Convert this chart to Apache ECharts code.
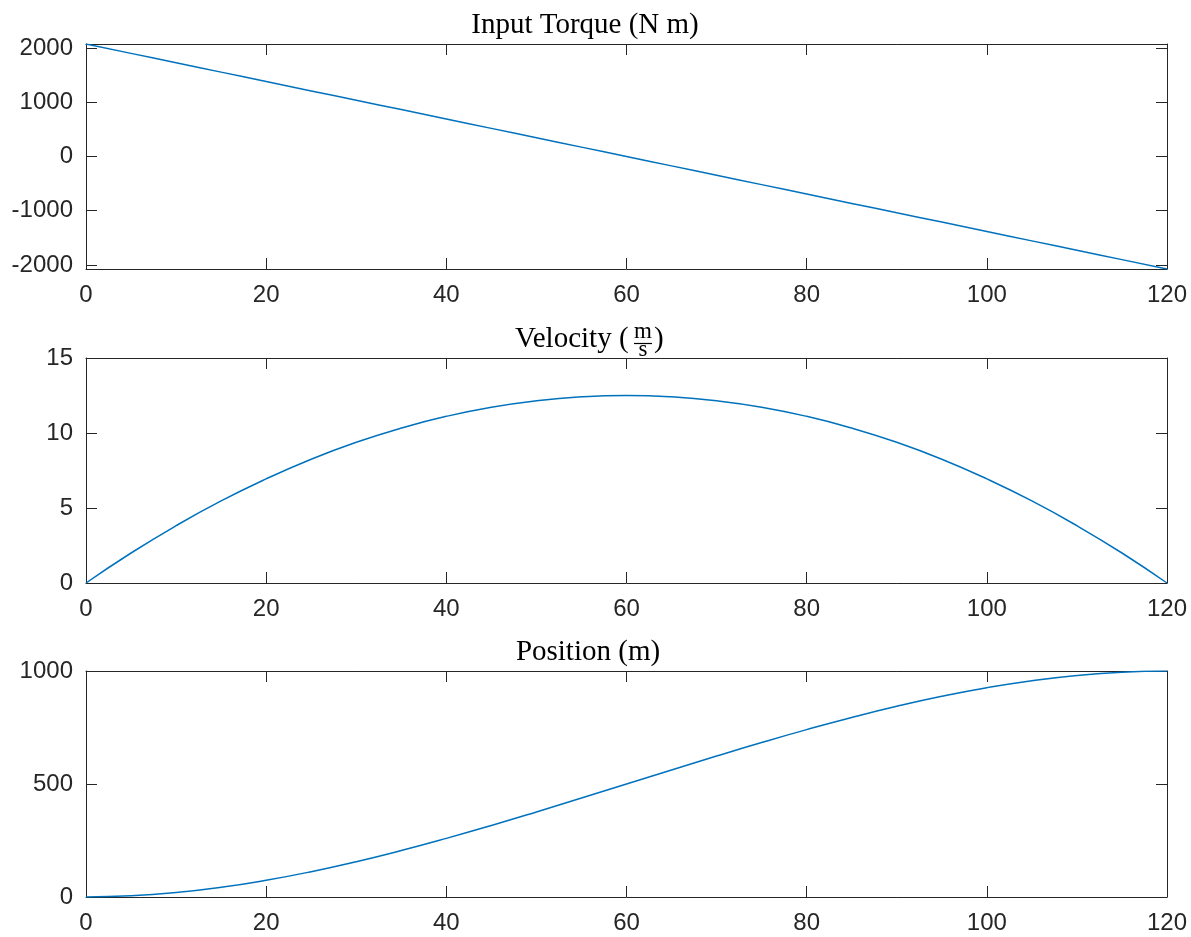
<!DOCTYPE html>
<html>
<head>
<meta charset="utf-8">
<script src="https://cdn.jsdelivr.net/npm/echarts@6/dist/echarts.min.js"></script>
<style>
  html, body { margin: 0; padding: 0; background: #fff; }
  #chart { width: 1191px; height: 937px; }
</style>
</head>
<body>
<div id="chart"></div>
<script>
// ---- data ----
const time = [0,5,10,15,20,25,30,35,40,45,50,55,60,65,70,75,80,85,90,95,100,105,110,115,120];
const torque = [2075,1902,1729,1556,1383,1210,1038,865,692,519,346,173,0,-173,-346,-519,-692,-865,-1038,-1210,-1383,-1556,-1729,-1902,-2075];
const velocity = [0,2.00,3.82,5.47,6.94,8.25,9.38,10.33,11.11,11.72,12.15,12.41,12.5,12.41,12.15,11.72,11.11,10.33,9.38,8.25,6.94,5.47,3.82,2.00,0];
const position = [0,5.1,19.7,43.0,74.1,112.1,156.3,205.6,259.3,316.4,376.2,437.7,500,562.3,623.8,683.6,740.7,794.4,843.8,887.9,925.9,957.0,980.3,994.9,1000];
const xTicks = [0,20,40,60,80,100,120];
const torqueTicks = [-2000,-1000,0,1000,2000];
const velocityTicks = [0,5,10,15];
const positionTicks = [0,500,1000];
const titles = ['Input Torque (N m)', 'Velocity (', 'Position (m)'];

// ---- styling ----
const axisColor = '#262626';
const lineColor = '#0072BD';
const labelFont = { fontFamily: 'Liberation Sans', fontSize: 24, color: axisColor };
const titleFont = 'Liberation Serif';

const grids = [
  { left: 86, right: 24, top: 44, height: 225 },
  { left: 86, right: 24, top: 358, height: 225 },
  { left: 86, right: 24, top: 671, height: 226 }
];

const yRanges = [
  { min: -2075, max: 2075, ticks: torqueTicks },
  { min: 0, max: 15, ticks: velocityTicks },
  { min: 0, max: 1000, ticks: positionTicks }
];

const xAxes = [], yAxes = [], series = [];
const seriesData = [torque, velocity, position];
const plain = v => String(v);

grids.forEach((g, i) => {
  ['bottom', 'top'].forEach(pos => {
    xAxes.push({
      type: 'value', gridIndex: i, position: pos, min: 0, max: 120,
      axisLine: { show: true, onZero: false, lineStyle: { color: axisColor, width: 1 } },
      axisTick: { show: true, inside: true, length: 11, customValues: xTicks, lineStyle: { color: axisColor, width: 1 } },
      axisLabel: Object.assign({ show: pos === 'bottom', margin: 14, customValues: xTicks, formatter: plain }, labelFont),
      splitLine: { show: false }
    });
  });
  ['left', 'right'].forEach(pos => {
    yAxes.push({
      type: 'value', gridIndex: i, position: pos, min: yRanges[i].min, max: yRanges[i].max,
      axisLine: { show: true, onZero: false, lineStyle: { color: axisColor, width: 1 } },
      axisTick: { show: true, inside: true, length: 11, customValues: yRanges[i].ticks, lineStyle: { color: axisColor, width: 1 } },
      axisLabel: Object.assign({ show: pos === 'left', margin: 13, customValues: yRanges[i].ticks, formatter: plain }, labelFont),
      splitLine: { show: false }
    });
  });
  series.push({
    type: 'line', xAxisIndex: i * 2, yAxisIndex: i * 2,
    data: time.map((t, k) => [t, seriesData[i][k]]),
    showSymbol: false, symbol: 'none', smooth: 0.5,
    lineStyle: { color: lineColor, width: 1.5 },
    animation: false
  });
});

const tfs = 29;
const baselines = [35, 349, 662];
const mid = b => b - 0.34 * tfs;
const sfs = 23;

const graphic = [
  { type: 'text', x: 585, y: mid(baselines[0]),
    style: { text: titles[0], font: tfs + 'px "' + titleFont + '"', fill: '#000', textAlign: 'center', textVerticalAlign: 'middle' } },
  { type: 'text', x: 515, y: mid(baselines[1]),
    style: { text: titles[1], font: tfs + 'px "' + titleFont + '"', fill: '#000', textAlign: 'left', textVerticalAlign: 'middle' } },
  { type: 'text', x: 643, y: 340 - 0.34 * sfs,
    style: { text: 'm', font: sfs + 'px "' + titleFont + '"', fill: '#000', textAlign: 'center', textVerticalAlign: 'middle' } },
  { type: 'line', shape: { x1: 634, y1: 343.5, x2: 652, y2: 343.5 }, style: { stroke: '#000', lineWidth: 1.2 } },
  { type: 'text', x: 643, y: 358 - 0.34 * sfs,
    style: { text: 's', font: sfs + 'px "' + titleFont + '"', fill: '#000', textAlign: 'center', textVerticalAlign: 'middle' } },
  { type: 'text', x: 654, y: mid(baselines[1]),
    style: { text: ')', font: tfs + 'px "' + titleFont + '"', fill: '#000', textAlign: 'left', textVerticalAlign: 'middle' } },
  { type: 'text', x: 588, y: mid(baselines[2]),
    style: { text: titles[2], font: tfs + 'px "' + titleFont + '"', fill: '#000', textAlign: 'center', textVerticalAlign: 'middle' } }
];

const chart = echarts.init(document.getElementById('chart'), null, { renderer: 'canvas' });
chart.setOption({
  backgroundColor: '#fff',
  animation: false,
  grid: grids,
  xAxis: xAxes,
  yAxis: yAxes,
  series: series,
  graphic: graphic
});
</script>
</body>
</html>
